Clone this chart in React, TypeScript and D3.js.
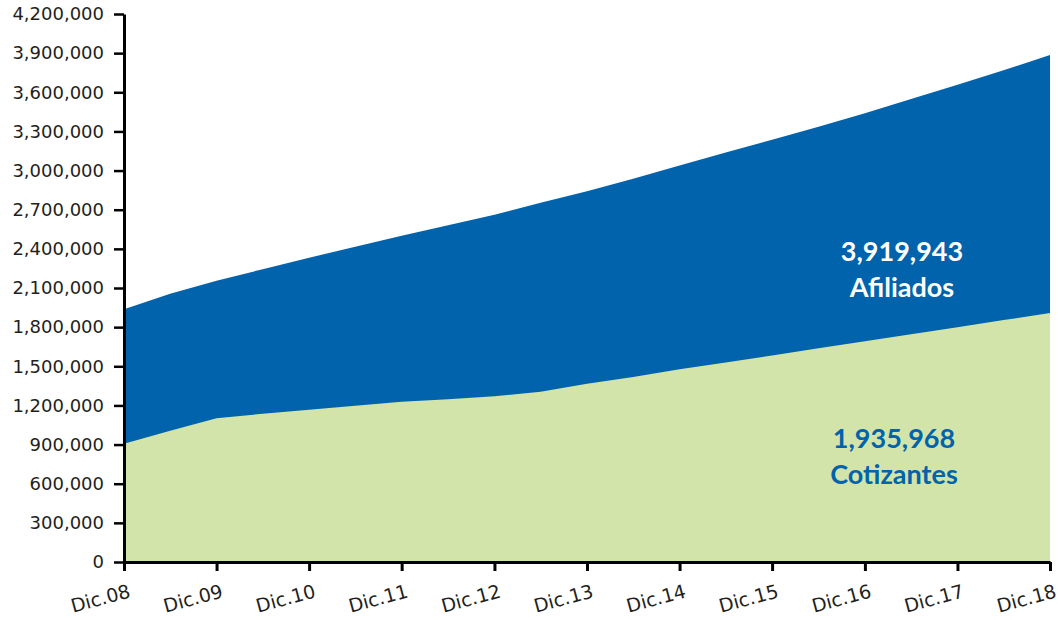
import * as d3 from "d3";
import { useEffect, useRef } from "react";

// half-yearly observations, Dic.08 .. Dic.18
const periods = [
  "2008-12", "2009-06", "2009-12", "2010-06", "2010-12", "2011-06", "2011-12",
  "2012-06", "2012-12", "2013-06", "2013-12", "2014-06", "2014-12", "2015-06",
  "2015-12", "2016-06", "2016-12", "2017-06", "2017-12", "2018-06", "2018-12",
];
const afiliados = [
  1937000, 2056000, 2156000, 2244000, 2332000, 2416000, 2500000, 2581000,
  2661000, 2753000, 2841000, 2937000, 3039000, 3138000, 3237000, 3336000,
  3439000, 3548000, 3657000, 3769000, 3885000,
];
const cotizantes = [
  906000, 1006000, 1102000, 1136000, 1167000, 1198000, 1228000, 1248000,
  1270000, 1305000, 1366000, 1418000, 1477000, 1529000, 1583000, 1638000,
  1691000, 1746000, 1799000, 1854000, 1908000,
];
const xTickDates = [
  "2008-12", "2009-12", "2010-12", "2011-12", "2012-12", "2013-12",
  "2014-12", "2015-12", "2016-12", "2017-12", "2018-12",
];
const xTickLabels = [
  "Dic.08", "Dic.09", "Dic.10", "Dic.11", "Dic.12", "Dic.13",
  "Dic.14", "Dic.15", "Dic.16", "Dic.17", "Dic.18",
];
const yTicks = [
  0, 300000, 600000, 900000, 1200000, 1500000, 1800000, 2100000, 2400000,
  2700000, 3000000, 3300000, 3600000, 3900000, 4200000,
];
const afiliadosLabel = ["3,919,943", "Afiliados"];
const cotizantesLabel = ["1,935,968", "Cotizantes"];

const BLUE = "#0063ab";
const GREEN = "#d3e4ab";

export default function App() {
  const ref = useRef<SVGSVGElement>(null);
  const width = 1058;
  const height = 620;

  useEffect(() => {
    const svg = d3.select(ref.current);
    svg.selectAll("*").remove();

    const parse = d3.timeParse("%Y-%m");
    const dates = periods.map((p) => parse(p) as Date);

    const x = d3
      .scaleTime()
      .domain([dates[0], dates[dates.length - 1]])
      .range([124, 1050]);
    const y = d3.scaleLinear().domain([0, 4200000]).range([562, 14]);

    const rows = dates.map((d, i) => ({
      date: d,
      af: afiliados[i],
      co: cotizantes[i],
    }));

    const areaAf = d3
      .area<any>()
      .x((d) => x(d.date))
      .y0(y(0))
      .y1((d) => y(d.af));
    const areaCo = d3
      .area<any>()
      .x((d) => x(d.date))
      .y0(y(0))
      .y1((d) => y(d.co));

    svg.append("path").datum(rows).attr("fill", BLUE).attr("d", areaAf);
    svg.append("path").datum(rows).attr("fill", GREEN).attr("d", areaCo);

    // Y axis
    const yAxis = svg
      .append("g")
      .attr("transform", "translate(124,0)")
      .call(
        d3
          .axisLeft(y)
          .tickValues(yTicks)
          .tickFormat((v: any) => d3.format(",")(v))
          .tickSize(10)
          .tickSizeOuter(0)
          .tickPadding(10)
      );
    yAxis.select(".domain").attr("stroke", "#000").attr("stroke-width", 3);
    yAxis.selectAll(".tick line").attr("stroke", "#000").attr("stroke-width", 2.5);
    yAxis
      .selectAll(".tick text")
      .attr("fill", "#231f20")
      .style("font-family", "'DejaVu Sans', sans-serif")
      .style("font-size", "18px");

    // X axis
    const tickDates = xTickDates.map((p) => parse(p) as Date);
    const xAxis = svg
      .append("g")
      .attr("transform", "translate(0,562)")
      .call(
        d3
          .axisBottom(x)
          .tickValues(tickDates)
          .tickFormat((_d: any, i: number) => xTickLabels[i])
          .tickSize(9)
          .tickSizeOuter(0)
      );
    xAxis.select(".domain").attr("stroke", "#000").attr("stroke-width", 3);
    xAxis.selectAll(".tick line").attr("stroke", "#000").attr("stroke-width", 3);
    xAxis
      .selectAll(".tick text")
      .attr("fill", "#231f20")
      .attr("text-anchor", "end")
      .attr("x", 0)
      .attr("dy", 0)
      .attr("y", 0)
      .attr("transform", "translate(7,35) rotate(-15)")
      .style("font-family", "'DejaVu Sans', sans-serif")
      .style("font-size", "19px");

    // series labels
    const lab = svg
      .append("g")
      .style("font-family", "Lato, 'DejaVu Sans', sans-serif")
      .style("font-weight", "bold")
      .style("font-size", "27px")
      .attr("text-anchor", "middle");
    lab
      .selectAll("text.af")
      .data(afiliadosLabel)
      .join("text")
      .attr("class", "af")
      .attr("x", 902)
      .attr("y", (_d, i) => 261 + i * 36)
      .attr("fill", "#fff")
      .text((d) => d);
    lab
      .selectAll("text.co")
      .data(cotizantesLabel)
      .join("text")
      .attr("class", "co")
      .attr("x", 894)
      .attr("y", (_d, i) => 448 + i * 36)
      .attr("fill", BLUE)
      .text((d) => d);
  }, []);

  return (
    <svg
      ref={ref}
      width={width}
      height={height}
      style={{ position: "absolute", left: 0, top: 0, background: "#fff" }}
    />
  );
}
